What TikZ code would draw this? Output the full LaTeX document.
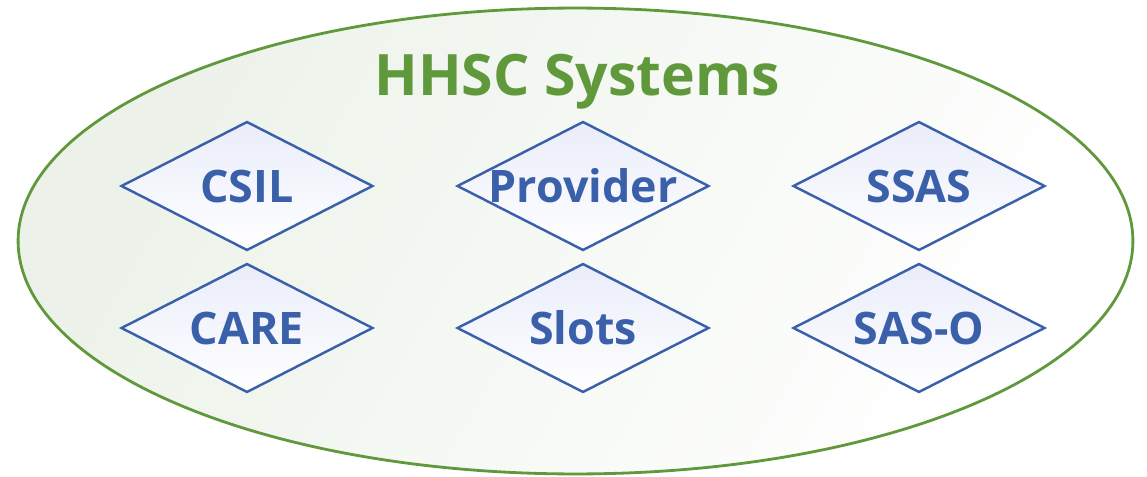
\documentclass[tikz,border=0pt]{standalone}
\usepackage{fontspec}
\setmainfont{Open Sans}
\usetikzlibrary{shapes.geometric}
\definecolor{hgreen}{RGB}{96,152,60}
\definecolor{hblue}{RGB}{59,96,170}
\definecolor{hfill}{RGB}{236,242,233}
\definecolor{dfill}{RGB}{234,237,250}

\begin{document}
\begin{tikzpicture}[x=0.02cm, y=-0.02cm,
	sysbox/.style={draw=hblue, line width=1.4pt, diamond, inner sep=0pt, minimum width=5.04cm, minimum height=2.58cm, top color=dfill, bottom color=white, label={[font=\fontsize{25.5}{28}\selectfont\bfseries, text=hblue]center:#1}},
	outer/.style={draw=hgreen, line width=1.6pt, ellipse, minimum width=22.3cm, minimum height=9.32cm, left color=hfill, right color=white, shading angle=60}]
					\useasboundingbox (0,0) rectangle (1147,477);
					\node[outer] (H)at(575.5, 241) {};
					\node[font=\fontsize{32.5}{36}\selectfont\bfseries, text=hgreen] (T)at(577, 82) {HHSC Systems};
					\node[sysbox=CSIL] (CSIL)at(247, 186) {};
					\node[sysbox=Provider] (P)at(583, 186) {};
					\node[sysbox=SSAS] (SSAS)at(919, 186) {};
					\node[sysbox=CARE] (CARE)at(247, 328) {};
					\node[sysbox=Slots] (S)at(583, 328) {};
					\node[sysbox=SAS-O] (SASO)at(919, 328) {};
				\end{tikzpicture}
\end{document}
